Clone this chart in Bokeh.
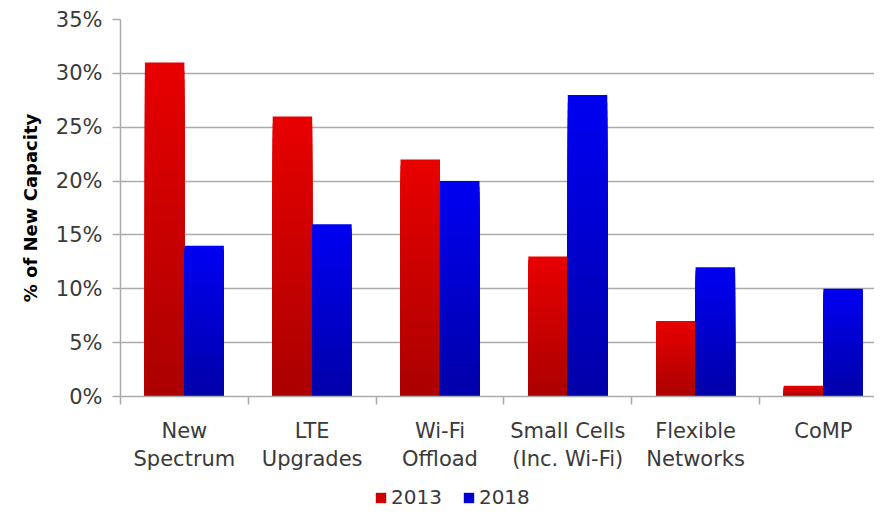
from bokeh.plotting import figure
from bokeh.layouts import column
from bokeh.models import (Range1d, FixedTicker, Legend, LegendItem,
                          ColumnDataSource, PrintfTickFormatter)
from bokeh.embed import file_html
from bokeh.resources import INLINE

# ---- data ----
categories = ["New\nSpectrum", "LTE\nUpgrades", "Wi-Fi\nOffload",
              "Small Cells\n(Inc. Wi-Fi)", "Flexible\nNetworks", "CoMP"]
series_names = ["2013", "2018"]
values_2013 = [31, 26, 22, 13, 7, 1]
values_2018 = [14, 16, 20, 28, 12, 10]
y_ticks = [0, 5, 10, 15, 20, 25, 30, 35]

FONT = "DejaVu Sans"
TEXT = "#3a3a3a"
GRID = "#ABABAB"
NAN = float("nan")

red_top, red_bottom = (0xE8, 0x00, 0x00), (0xAA, 0x00, 0x00)
blue_top, blue_bottom = (0x00, 0x00, 0xF2), (0x00, 0x00, 0xA8)

BAR_W = 0.309
N_SLICES = 40


def mix(c0, c1, t):
    return "#%02x%02x%02x" % tuple(int(round(a + (b - a) * t)) for a, b in zip(c0, c1))


def slices(values, side, c_bottom, c_top):
    # stacked full-height rectangles drawn tallest first -> vertical gradient without seams
    d = dict(left=[], right=[], bottom=[], top=[], color=[])
    for k in reversed(range(N_SLICES)):
        for i, v in enumerate(values):
            center = i + 0.5
            d["left"].append(center - BAR_W if side < 0 else center)
            d["right"].append(center if side < 0 else center + BAR_W)
            d["bottom"].append(0)
            d["top"].append(v * (k + 1) / N_SLICES)
            d["color"].append(mix(c_bottom, c_top, (k + 0.5) / N_SLICES))
    return ColumnDataSource(d)


p = figure(width=874, height=476, output_backend="svg", toolbar_location=None,
           x_range=Range1d(0, 5.9), y_range=Range1d(0, 35),
           min_border_left=120, min_border_top=19, min_border_right=0,
           min_border_bottom=80, outline_line_color=None)

p.quad(left="left", right="right", bottom="bottom", top="top",
       fill_color="color", line_color=None,
       source=slices(values_2013, -1, red_bottom, red_top))
p.quad(left="left", right="right", bottom="bottom", top="top",
       fill_color="color", line_color=None,
       source=slices(values_2018, 1, blue_bottom, blue_top))

# y axis
p.yaxis.ticker = FixedTicker(ticks=y_ticks)
p.yaxis.formatter = PrintfTickFormatter(format="%d%%")
p.yaxis.axis_label = "% of New Capacity"
p.yaxis.axis_label_text_font = FONT
p.yaxis.axis_label_text_font_style = "bold"
p.yaxis.axis_label_text_font_size = "18px"
p.yaxis.axis_label_text_color = "#000000"
p.yaxis.axis_label_standoff = 12
p.yaxis.major_label_text_font = FONT
p.yaxis.major_label_text_font_size = "21px"
p.yaxis.major_label_text_color = TEXT
p.yaxis.major_label_standoff = 10
p.yaxis.major_tick_out = 8
p.yaxis.major_tick_in = 0
p.yaxis.minor_tick_out = 0
p.yaxis.minor_tick_in = 0
p.yaxis.axis_line_color = GRID
p.yaxis.major_tick_line_color = GRID
p.yaxis.axis_line_width = 1.5
p.yaxis.major_tick_line_width = 1.5

# x axis
p.xaxis.ticker = FixedTicker(ticks=[i + 0.5 for i in range(len(categories))],
                             minor_ticks=list(range(len(categories) + 1)))
p.xaxis.major_label_overrides = {i + 0.5: c for i, c in enumerate(categories)}
p.xaxis.major_label_text_font = FONT
p.xaxis.major_label_text_font_size = "21px"
p.xaxis.major_label_text_color = TEXT
p.xaxis.major_label_standoff = 14
p.xaxis.major_tick_out = 0
p.xaxis.major_tick_in = 0
p.xaxis.minor_tick_out = 8
p.xaxis.minor_tick_in = 0
p.xaxis.axis_line_color = GRID
p.xaxis.minor_tick_line_color = GRID
p.xaxis.axis_line_width = 1.5
p.xaxis.minor_tick_line_width = 1.5

p.xgrid.grid_line_color = None
p.ygrid.grid_line_color = GRID
p.ygrid.grid_line_width = 1.5

# legend strip
lg = figure(width=874, height=41, output_backend="svg", toolbar_location=None,
            x_range=Range1d(0, 1), y_range=Range1d(0, 1),
            x_axis_type=None, y_axis_type=None, outline_line_color=None,
            min_border_left=0, min_border_right=0, min_border_top=0, min_border_bottom=0)
lg.xgrid.grid_line_color = None
lg.ygrid.grid_line_color = None
r13 = lg.quad(left=[NAN], right=[NAN], bottom=[NAN], top=[NAN],
              fill_color=mix(red_bottom, red_top, 0.55), line_color=None)
r18 = lg.quad(left=[NAN], right=[NAN], bottom=[NAN], top=[NAN],
              fill_color=mix(blue_bottom, blue_top, 0.6), line_color=None)
legend = Legend(items=[LegendItem(label=series_names[0], renderers=[r13]),
                       LegendItem(label=series_names[1], renderers=[r18])],
                orientation="horizontal", location=(254, 8),
                border_line_color=None, background_fill_alpha=0,
                label_text_font=FONT, label_text_font_size="20px",
                label_text_color=TEXT, glyph_width=13, glyph_height=13,
                label_standoff=4, spacing=20, padding=0, margin=0)
lg.add_layout(legend, "center")

open("out.html", "w").write(file_html(column(p, lg, spacing=0), INLINE))
